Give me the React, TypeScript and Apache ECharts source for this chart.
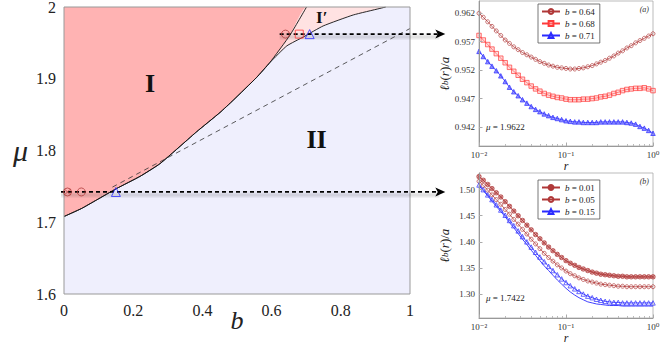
import React, { useEffect, useRef } from "react";
import * as echarts from "echarts";

// ---------- inset data (r on log axis) ----------
const R = [0.01, 0.0112, 0.0126, 0.0141, 0.0158, 0.0178, 0.02, 0.0224, 0.0251, 0.0282, 0.0316, 0.0355, 0.0398, 0.0447, 0.0501, 0.0562, 0.0631, 0.0708, 0.0794, 0.0891, 0.1, 0.112, 0.126, 0.141, 0.158, 0.178, 0.2, 0.224, 0.251, 0.282, 0.316, 0.355, 0.398, 0.447, 0.501, 0.562, 0.631, 0.708, 0.794, 0.891, 1.0];
const MINOR_R = [0.02, 0.03, 0.04, 0.05, 0.06, 0.07, 0.08, 0.09, 0.2, 0.3, 0.4, 0.5, 0.6, 0.7, 0.8, 0.9];

// inset (a), mu = 1.9622
const L_B064 = [0.962, 0.9613, 0.9605, 0.9597, 0.9589, 0.9581, 0.9573, 0.9567, 0.9561, 0.9556, 0.9551, 0.9547, 0.9543, 0.9539, 0.9535, 0.9532, 0.9529, 0.9527, 0.9525, 0.9524, 0.9523, 0.9522, 0.9522, 0.9523, 0.9524, 0.9526, 0.9528, 0.9531, 0.9534, 0.9537, 0.9541, 0.9545, 0.955, 0.9554, 0.9559, 0.9563, 0.9568, 0.9572, 0.9576, 0.958, 0.9584];
const L_B068 = [0.9581, 0.9573, 0.9565, 0.9557, 0.9549, 0.9541, 0.9533, 0.9525, 0.9518, 0.9511, 0.9504, 0.9498, 0.9492, 0.9487, 0.9483, 0.9479, 0.9476, 0.9474, 0.9472, 0.9471, 0.9469, 0.9468, 0.9468, 0.9468, 0.9469, 0.9469, 0.947, 0.9471, 0.9473, 0.9474, 0.9476, 0.9479, 0.9481, 0.9484, 0.9486, 0.9487, 0.9488, 0.9488, 0.9489, 0.9487, 0.9484];
const L_B071 = [0.9553, 0.9544, 0.9535, 0.9527, 0.9519, 0.951, 0.95, 0.949, 0.9482, 0.9475, 0.9468, 0.9462, 0.9456, 0.9451, 0.9447, 0.9443, 0.944, 0.9437, 0.9435, 0.9433, 0.9431, 0.943, 0.9429, 0.9429, 0.9428, 0.9428, 0.9428, 0.9428, 0.9429, 0.9429, 0.9429, 0.9429, 0.9429, 0.9429, 0.9428, 0.9427, 0.9425, 0.9421, 0.9418, 0.9414, 0.9409];
const TICKS_A = [0.942, 0.947, 0.952, 0.957, 0.962];

// inset (b), mu = 1.7422
const L_B001 = [1.525, 1.518, 1.51, 1.502, 1.494, 1.486, 1.477, 1.468, 1.459, 1.45, 1.441, 1.432, 1.423, 1.414, 1.406, 1.398, 1.39, 1.383, 1.376, 1.37, 1.364, 1.359, 1.355, 1.351, 1.348, 1.345, 1.342, 1.34, 1.338, 1.337, 1.336, 1.335, 1.334, 1.334, 1.333, 1.333, 1.333, 1.333, 1.333, 1.333, 1.333];
const L_B005 = [1.516, 1.508, 1.499, 1.49, 1.481, 1.472, 1.462, 1.453, 1.443, 1.434, 1.424, 1.415, 1.405, 1.396, 1.387, 1.378, 1.37, 1.363, 1.356, 1.35, 1.344, 1.339, 1.335, 1.331, 1.328, 1.325, 1.323, 1.321, 1.319, 1.318, 1.317, 1.316, 1.315, 1.315, 1.314, 1.314, 1.314, 1.314, 1.314, 1.314, 1.314];
const L_B015 = [1.509, 1.5, 1.49, 1.481, 1.471, 1.461, 1.451, 1.441, 1.431, 1.421, 1.41, 1.4, 1.39, 1.38, 1.371, 1.362, 1.353, 1.345, 1.337, 1.329, 1.322, 1.316, 1.31, 1.305, 1.3, 1.296, 1.293, 1.29, 1.288, 1.286, 1.285, 1.284, 1.284, 1.283, 1.283, 1.283, 1.283, 1.283, 1.283, 1.283, 1.283];
const L_B015_FIT = [1.507, 1.498, 1.488, 1.478, 1.468, 1.458, 1.448, 1.437, 1.427, 1.416, 1.405, 1.395, 1.384, 1.374, 1.364, 1.354, 1.345, 1.336, 1.327, 1.319, 1.311, 1.304, 1.298, 1.293, 1.289, 1.285, 1.283, 1.281, 1.28, 1.279, 1.278, 1.278, 1.278, 1.277, 1.277, 1.277, 1.277, 1.277, 1.277, 1.277, 1.277];
const TICKS_B = [1.3, 1.35, 1.4, 1.45, 1.5];

// ---------- phase diagram (b, mu) ----------
const UPPER_BOUNDARY = [[0, 1.708], [0.05, 1.719], [0.094, 1.731], [0.152, 1.747], [0.22, 1.764], [0.277, 1.7815], [0.35, 1.812], [0.383, 1.826], [0.451, 1.853], [0.489, 1.87], [0.557, 1.902], [0.595, 1.9226], [0.653, 1.9607], [0.701, 2.0]];
const LOWER_BOUNDARY = [[0, 1.708], [0.05, 1.719], [0.094, 1.731], [0.152, 1.747], [0.22, 1.764], [0.277, 1.7815], [0.35, 1.812], [0.383, 1.826], [0.451, 1.853], [0.489, 1.87], [0.557, 1.902], [0.595, 1.9226], [0.644, 1.9458], [0.692, 1.9583], [0.749, 1.9736], [0.836, 1.9889], [0.913, 1.998], [0.93, 2.0]];
const TOP_RIGHT = [[1.0, 2.0]];
const DASHED = [[0.14, 1.749], [1.0, 1.97]];
const MU_A = 1.9622;
const MU_B = 1.7422;
const B_A = [0.64, 0.68, 0.71];
const B_B = [0.01, 0.05, 0.15];
const ARROW_START_A = 0.632;
const ARROW_START_B = 0.0;
const ARROW_END = 1.102;

const SERIF = '"Liberation Serif", "DejaVu Serif", serif';
const DARK = "#b03838";
const RED = "#ff3a3a";
const BLUE = "#2b2bff";
const OTIMES = "path://M0,10A10,10,0,1,1,20,10A10,10,0,1,1,0,10ZM3,3L17,17M17,3L3,17";

const SUP: Record<string, string> = { "-2": "⁻²", "-1": "⁻¹", "0": "⁰" };
const logLabel = (v: number) => "10" + (SUP[String(Math.round(Math.log10(v)))] || "");

function insetX(gridIndex: number) {
  return [
    {
      gridIndex, type: "log", logBase: 10, min: 0.01, max: 1, position: "bottom",
      axisLine: { lineStyle: { color: "#999", width: 1 } },
      axisTick: { inside: true, length: 3.5, lineStyle: { color: "#aaa" } },
      axisLabel: { formatter: logLabel, fontFamily: SERIF, fontSize: 9, lineHeight: 9, color: "#333", margin: 4 },
      splitLine: { show: false },
      name: "r", nameLocation: "middle", nameGap: 14, nameMoveOverlap: false,
      nameTextStyle: { fontFamily: SERIF, fontStyle: "italic", fontSize: 12, lineHeight: 12, color: "#222" },
      z: 10,
    },
    {
      gridIndex, type: "log", logBase: 10, min: 0.01, max: 1, position: "bottom", offset: 0,
      axisLine: { show: false },
      axisTick: { inside: true, length: 2, customValues: MINOR_R, lineStyle: { color: "#bbb" } },
      axisLabel: { show: false },
      splitLine: { show: false },
      z: 10,
    },
  ];
}

function insetY(gridIndex: number, min: number, max: number, ticks: number[], dec: number) {
  return {
    gridIndex, type: "value", min, max,
    axisLine: { show: true, lineStyle: { color: "#999", width: 1 } },
    axisTick: { show: true, inside: true, length: 3.5, customValues: ticks, lineStyle: { color: "#aaa" } },
    axisLabel: { customValues: ticks, formatter: (v: number) => v.toFixed(dec), fontFamily: SERIF, fontSize: 9, color: "#333", margin: 4 },
    splitLine: { show: false },
    name: "{i|ℓ}{s|b}{n|(}{i|r}{n|)/}{i|a}",
    nameLocation: "middle", nameGap: 28, nameRotate: 90, nameMoveOverlap: false,
    nameTextStyle: {
      color: "#222",
      rich: {
        i: { fontFamily: SERIF, fontStyle: "italic", fontSize: 13, color: "#222" },
        s: { fontFamily: SERIF, fontStyle: "italic", fontSize: 9, color: "#222" },
        n: { fontFamily: SERIF, fontSize: 13, color: "#222" },
      },
    },
    z: 10,
  };
}

function insetLegend(top: number, names: string[]) {
  return {
    left: 538, top, orient: "vertical", data: names,
    itemWidth: 18, itemHeight: 6, itemGap: 3,
    padding: [3, 5, 3, 3],
    borderColor: "#555", borderWidth: 0.8, backgroundColor: "#fff",
    formatter: (name: string) => "{i|b}{n|" + name.slice(1) + "}",
    textStyle: {
      fontFamily: SERIF, fontSize: 9, color: "#222",
      rich: {
        i: { fontFamily: SERIF, fontStyle: "italic", fontSize: 9, color: "#222" },
        n: { fontFamily: SERIF, fontSize: 9, color: "#222" },
      },
    },
  };
}

function curve(name: string, xi: number, yi: number, vals: number[], color: string, symbol: string, size: number, fill: string) {
  return {
    name, type: "line", xAxisIndex: xi, yAxisIndex: yi,
    data: R.map((r, i) => [r, vals[i]]),
    symbol, symbolSize: size, showSymbol: true,
    lineStyle: { color, width: 0.8 },
    itemStyle: { color: fill, borderColor: color, borderWidth: 0.7 },
    z: 4,
  };
}

export default function App() {
  const ref = useRef<HTMLDivElement>(null);
  useEffect(() => {
    const chart = echarts.init(ref.current!, null, { renderer: "svg" });
    const option: any = {
      animation: false,
      backgroundColor: "#fff",
      grid: [
        { left: 64, top: 7, width: 346, height: 287, show: true, backgroundColor: "#ffb3b3", borderWidth: 0, outerBoundsMode: "none", containLabel: false },
        { left: 479, top: 1, width: 174, height: 145, show: true, backgroundColor: "#fff", borderColor: "#aaa", borderWidth: 0.8, outerBoundsMode: "none", containLabel: false },
        { left: 479, top: 173, width: 174, height: 145, show: true, backgroundColor: "#fff", borderColor: "#aaa", borderWidth: 0.8, outerBoundsMode: "none", containLabel: false },
      ],
      xAxis: [
        {
          gridIndex: 0, type: "value", min: 0, max: 1, interval: 0.2,
          axisLine: { show: false }, axisTick: { show: false }, splitLine: { show: false },
          axisLabel: { fontFamily: SERIF, fontSize: 16, color: "#222", margin: 8 },
          name: "b", nameLocation: "middle", nameGap: 13, nameMoveOverlap: false,
          nameTextStyle: { fontFamily: SERIF, fontStyle: "italic", fontSize: 26, color: "#222" },
        },
        ...insetX(1),
        ...insetX(2),
      ],
      yAxis: [
        {
          gridIndex: 0, type: "value", min: 1.6, max: 2, interval: 0.1,
          axisLine: { show: false }, axisTick: { show: false }, splitLine: { show: false },
          axisLabel: { fontFamily: SERIF, fontSize: 16, color: "#222", margin: 8 },
          name: "μ", nameLocation: "middle", nameGap: 36, nameRotate: 0, nameMoveOverlap: false,
          nameTextStyle: { fontFamily: SERIF, fontStyle: "italic", fontSize: 30, color: "#222" },
        },
        insetY(1, 0.93866, 0.96416, TICKS_A, 3),
        insetY(2, 1.2541, 1.5319, TICKS_B, 2),
      ],
      legend: [
        insetLegend(4, ["b = 0.64", "b = 0.68", "b = 0.71"]),
        insetLegend(180, ["b = 0.01", "b = 0.05", "b = 0.15"]),
      ],
      series: [
        // region fills
        { type: "line", xAxisIndex: 0, yAxisIndex: 0, data: [...UPPER_BOUNDARY, ...TOP_RIGHT], symbol: "none", smooth: 0.15, lineStyle: { width: 0 }, areaStyle: { color: "#ffe2e2", origin: "start", opacity: 1 }, z: 1, silent: true },
        { type: "line", xAxisIndex: 0, yAxisIndex: 0, data: [...LOWER_BOUNDARY, ...TOP_RIGHT], symbol: "none", smooth: 0.15, lineStyle: { width: 0 }, areaStyle: { color: "#efeffd", origin: "start", opacity: 1 }, z: 1, silent: true },
        // boundaries
        { type: "line", xAxisIndex: 0, yAxisIndex: 0, data: UPPER_BOUNDARY, symbol: "none", smooth: 0.15, lineStyle: { color: "#111", width: 0.9 }, z: 2 },
        { type: "line", xAxisIndex: 0, yAxisIndex: 0, data: LOWER_BOUNDARY, symbol: "none", smooth: 0.15, lineStyle: { color: "#111", width: 0.9 }, z: 2 },
        { type: "line", xAxisIndex: 0, yAxisIndex: 0, data: DASHED, symbol: "none", lineStyle: { color: "#333", width: 0.8, type: [5, 4] }, z: 2 },
        // markers on the phase diagram
        { type: "scatter", xAxisIndex: 0, yAxisIndex: 0, data: [[B_A[0], MU_A], [B_B[1], MU_B]], symbol: "circle", symbolSize: 8, itemStyle: { color: "rgba(0,0,0,0)", borderColor: DARK, borderWidth: 1 }, z: 30 },
        { type: "scatter", xAxisIndex: 0, yAxisIndex: 0, data: [[B_B[0], MU_B]], symbol: OTIMES, symbolSize: 8, itemStyle: { color: "rgba(0,0,0,0)", borderColor: DARK, borderWidth: 1 }, z: 30 },
        { type: "scatter", xAxisIndex: 0, yAxisIndex: 0, data: [[B_A[1], MU_A]], symbol: "rect", symbolSize: 8, itemStyle: { color: "rgba(0,0,0,0)", borderColor: RED, borderWidth: 1 }, z: 30 },
        { type: "scatter", xAxisIndex: 0, yAxisIndex: 0, data: [[B_A[2], MU_A], [B_B[2], MU_B]], symbol: "triangle", symbolSize: 9, itemStyle: { color: "rgba(0,0,0,0)", borderColor: BLUE, borderWidth: 1 }, z: 30 },
        // inset (a)
        curve("b = 0.64", 1, 1, L_B064, DARK, "circle", 4, "rgba(255,255,255,0)"),
        curve("b = 0.68", 1, 1, L_B068, RED, "rect", 4.5, "rgba(255,170,170,0.4)"),
        curve("b = 0.71", 1, 1, L_B071, BLUE, "triangle", 4.5, "rgba(80,80,255,0.6)"),
        // inset (b)
        curve("b = 0.01", 3, 2, L_B001, DARK, OTIMES, 4.5, "rgba(176,56,56,0.45)"),
        curve("b = 0.05", 3, 2, L_B005, DARK, "circle", 4, "rgba(255,255,255,0)"),
        { name: "fit015", type: "line", xAxisIndex: 3, yAxisIndex: 2, data: R.map((r, i) => [r, L_B015_FIT[i]]), symbol: "none", lineStyle: { color: BLUE, width: 0.9 }, z: 3 },
        curve("b = 0.15", 3, 2, L_B015, BLUE, "triangle", 4.5, "rgba(255,255,255,0)"),
      ],
    };
    chart.setOption(option);

    const px = (b: number, mu: number) => chart.convertToPixel({ gridIndex: 0 }, [b, mu]) as number[];
    const pI = px(0.249, 1.894);
    const pII = px(0.73, 1.816);
    const pIp = px(0.745, 1.985);
    const label = (p: number[], text: string, size: number) => ({
      type: "text", x: p[0], y: p[1], z: 20,
      style: { text, fill: "#111", font: `bold ${size}px ${SERIF}`, align: "center", verticalAlign: "middle" },
    });
    const arrow = (start: number, mu: number) => {
      const a = px(start, mu);
      const e = px(ARROW_END, mu);
      const y = a[1];
      const x0 = a[0] - 3;
      const tip = e[0];
      return [
        { type: "rect", z: 8, silent: true, shape: { x: x0, y: y - 1, width: tip - 6 - x0, height: 7 }, style: { fill: "rgba(60,60,60,0.06)" } },
        { type: "rect", z: 8, silent: true, shape: { x: x0, y: y + 1.5, width: tip - 6 - x0, height: 3 }, style: { fill: "rgba(60,60,60,0.1)" } },
        { type: "polyline", z: 12, silent: true, shape: { points: [[x0, y], [tip - 6, y]] }, style: { stroke: "#000", fill: "none", lineWidth: 1.8, lineDash: [4, 3] } },
        { type: "polygon", z: 12, silent: true, shape: { points: [[tip - 10, y - 4.5], [tip, y], [tip - 10, y + 4.5], [tip - 7.5, y]] }, style: { fill: "#000" } },
      ];
    };
    chart.setOption({
      graphic: [
        { type: "rect", shape: { x: 64, y: 7, width: 346, height: 287 }, style: { fill: "none", stroke: "#999", lineWidth: 1 }, z: 3 },
        ...arrow(ARROW_START_A, MU_A),
        ...arrow(ARROW_START_B, MU_B),
        label(pI, "I", 26),
        label(pII, "II", 26),
        label(pIp, "I′", 17),
        { type: "text", x: 649, y: 9, z: 20, style: { text: "(a)", fill: "#333", font: `italic 8px ${SERIF}`, align: "right", verticalAlign: "middle" } },
        { type: "text", x: 649, y: 181, z: 20, style: { text: "(b)", fill: "#333", font: `italic 8px ${SERIF}`, align: "right", verticalAlign: "middle" } },
        {
          type: "text", x: 486, y: 127, z: 20,
          style: { text: "{i|μ} = 1.9622", fill: "#222", font: `9px ${SERIF}`, verticalAlign: "middle", rich: { i: { fontFamily: SERIF, fontStyle: "italic", fontSize: 9 } } },
        },
        {
          type: "text", x: 486, y: 298, z: 20,
          style: { text: "{i|μ} = 1.7422", fill: "#222", font: `9px ${SERIF}`, verticalAlign: "middle", rich: { i: { fontFamily: SERIF, fontStyle: "italic", fontSize: 9 } } },
        },
      ],
    });
    return () => chart.dispose();
  }, []);
  return <div ref={ref} style={{ position: "fixed", left: 0, top: 0, width: 664, height: 345, background: "#fff" }} />;
}
